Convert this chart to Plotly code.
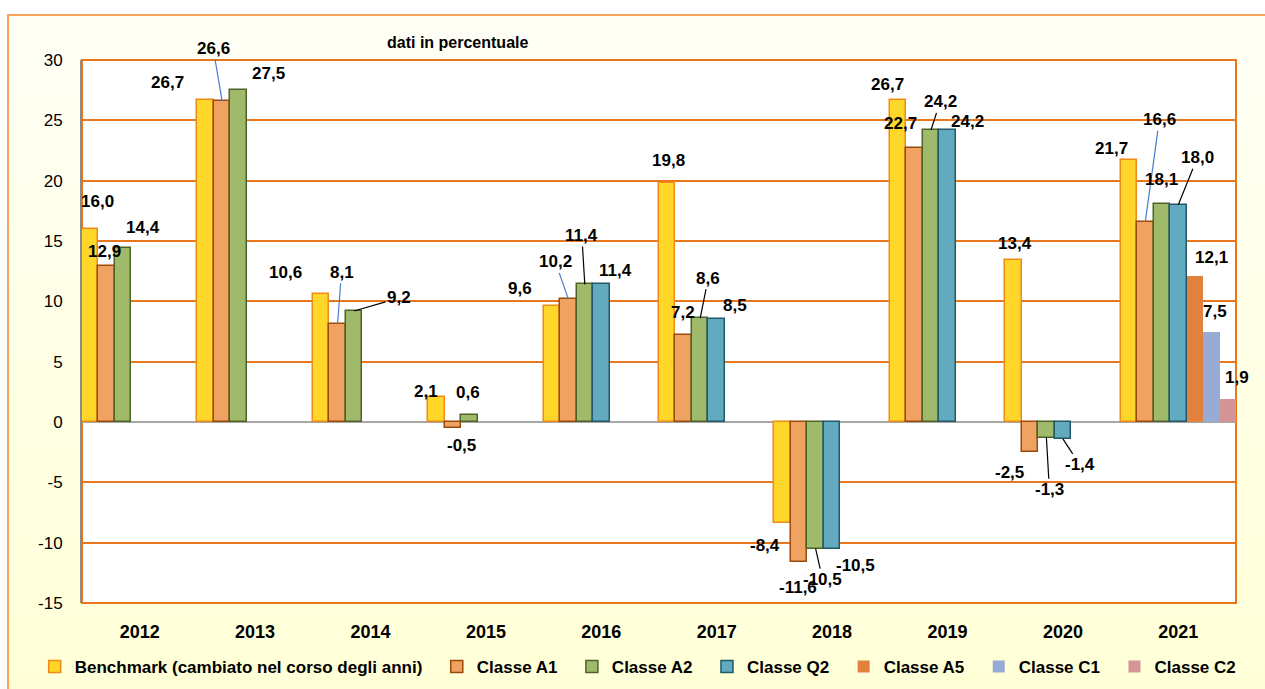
import base64
import plotly.graph_objects as go

# ---------------- data ----------------
years = ["2012", "2013", "2014", "2015", "2016", "2017", "2018", "2019", "2020", "2021"]
series_names = [
    "Benchmark (cambiato nel corso degli anni)",
    "Classe A1",
    "Classe A2",
    "Classe Q2",
    "Classe A5",
    "Classe C1",
    "Classe C2",
]
benchmark = [16.0, 26.7, 10.6, 2.1, 9.6, 19.8, -8.4, 26.7, 13.4, 21.7]
classe_a1 = [12.9, 26.6, 8.1, -0.5, 10.2, 7.2, -11.6, 22.7, -2.5, 16.6]
classe_a2 = [14.4, 27.5, 9.2, 0.6, 11.4, 8.6, -10.5, 24.2, -1.3, 18.1]
classe_q2 = [None, None, None, None, 11.4, 8.5, -10.5, 24.2, -1.4, 18.0]
classe_a5 = [None, None, None, None, None, None, None, None, None, 12.1]
classe_c1 = [None, None, None, None, None, None, None, None, None, 7.5]
classe_c2 = [None, None, None, None, None, None, None, None, None, 1.9]
all_series = [benchmark, classe_a1, classe_a2, classe_q2, classe_a5, classe_c1, classe_c2]

y_tick_values = [-15, -10, -5, 0, 5, 10, 15, 20, 25, 30]
y_tick_labels = ["-15", "-10", "-5", "0", "5", "10", "15", "20", "25", "30"]

# ---------------- styles ----------------
fill_colors = ["#ffd62a", "#f0a262", "#a0ba6c", "#62aabf", "#e0823e", "#97abd5", "#d59495"]
edge_colors = ["#f08a16", "#9a4a0a", "#4f6228", "#215968", None, None, None]

FONT = "Liberation Sans, Arial, sans-serif"
GRID = "#e8761c"
BLUE_LINE = "#4a7cc8"
BLACK_LINE = "#000000"

# label placement (pixel offset of label centre from bar end) and leader line colour
label_pos = {
    (0, 0): (7, -27, None), (1, 0): (-2, -15, None), (2, 0): (20, -21, None),
    (0, 1): (-38, -17, None), (1, 1): (-9, -53, BLUE_LINE), (2, 1): (30, -17, None),
    (0, 2): (-36, -22, None), (1, 2): (4, -52, BLUE_LINE), (2, 2): (45, -13, BLACK_LINE),
    (0, 3): (-10, -5, None), (1, 3): (9, 17, None), (2, 3): (-1, -22, None),
    (0, 4): (-32, -18, None), (1, 4): (-13, -37, BLUE_LINE), (2, 4): (-3, -49, BLACK_LINE), (3, 4): (14, -14, None),
    (0, 5): (1, -23, None), (1, 5): (-1, -23, None), (2, 5): (8, -40, BLACK_LINE), (3, 5): (18, -14, None),
    (0, 6): (-18, 22, None), (1, 6): (-1, 26, None), (2, 6): (7, 31, BLACK_LINE), (3, 6): (23, 17, None),
    (0, 7): (-11, -15, None), (1, 7): (-14, -25, None), (2, 7): (9, -28, BLACK_LINE), (3, 7): (20, -8, None),
    (0, 8): (2, -17, None), (1, 8): (-20, 20, None), (2, 8): (3, 52, BLACK_LINE), (3, 8): (17, 26, BLACK_LINE),
    (0, 9): (-17, -12, None), (1, 9): (14, -102, BLUE_LINE), (2, 9): (0, -24, None), (3, 9): (19, -47, BLACK_LINE),
    (4, 9): (17, -18, None), (5, 9): (4, -20, None), (6, 9): (9, -22, None),
}

n_series = len(all_series)
x_idx = list(range(len(years)))
PAD = "\u00a0\u00a0"  # extra spacing between legend entries

fig = go.Figure()
for s, (name, vals) in enumerate(zip(series_names, all_series)):
    line = dict(color=edge_colors[s], width=1.5) if edge_colors[s] else dict(width=0)
    fig.add_trace(go.Bar(
        x=x_idx, y=vals, name=name + (PAD if s < n_series - 1 else ""),
        marker=dict(color=fill_colors[s], line=line),
    ))

annotations = []
for s, vals in enumerate(all_series):
    for j, v in enumerate(vals):
        if v is None:
            continue
        ax, ay, lc = label_pos.get((s, j), (0, -18, None))
        annotations.append(dict(
            x=j + (s - (n_series - 1) / 2) / n_series, y=v, xref="x", yref="y",
            text=f"{v:.1f}".replace(".", ","),
            showarrow=True, ax=ax, ay=ay, arrowhead=0, arrowwidth=1.2,
            arrowcolor=lc if lc else "rgba(0,0,0,0)", standoff=0, startstandoff=0,
            font=dict(family=FONT, size=17, color="black", weight="bold"),
        ))

annotations.append(dict(
    x=0.3258, y=1.033, xref="paper", yref="paper", showarrow=False,
    text="<b>dati in percentuale</b>", xanchor="center", yanchor="middle",
    font=dict(family=FONT, size=16, color="black"),
))

# cream gradient for the chart frame
svg = ('<svg xmlns="http://www.w3.org/2000/svg" viewBox="0 0 100 100" preserveAspectRatio="none" '
       'width="100" height="100"><defs><linearGradient id="g" x1="0" y1="0" x2="0" y2="1">'
       '<stop offset="0" stop-color="#fffff6"/><stop offset="1" stop-color="#ffffd3"/>'
       '</linearGradient></defs><rect width="100" height="100" fill="url(#g)"/></svg>')
src = "data:image/svg+xml;base64," + base64.b64encode(svg.encode()).decode()

fig.update_layout(
    width=1265, height=689,
    margin=dict(l=82, r=29, t=60, b=86, autoexpand=False),
    paper_bgcolor="white", plot_bgcolor="rgba(0,0,0,0)",
    barmode="group", bargap=0, bargroupgap=0,
    showlegend=True,
    legend=dict(orientation="h", x=-0.041, y=-0.118, xanchor="left", yanchor="middle",
                font=dict(family=FONT, size=17, color="black", weight="bold"),
                bgcolor="rgba(0,0,0,0)", itemwidth=30, traceorder="normal"),
    xaxis=dict(range=[-0.5, 9.5], tickmode="array", tickvals=x_idx, ticktext=years,
               showgrid=False, zeroline=False, showline=False, ticks="",
               ticklabelstandoff=16,
               tickfont=dict(family=FONT, size=18, color="black", weight="bold")),
    yaxis=dict(range=[-15, 30], tickmode="array", tickvals=y_tick_values, ticktext=y_tick_labels,
               showgrid=True, gridcolor=GRID, gridwidth=2,
               zeroline=True, zerolinecolor="#a6a6a6", zerolinewidth=2,
               showline=True, linecolor="#8c8c8c", linewidth=2, ticks="",
               ticklabelstandoff=14,
               tickfont=dict(family=FONT, size=17, color="black")),
    annotations=annotations,
    images=[dict(source=src, xref="paper", yref="paper", x=-0.0641, y=1.0829,
                 sizex=1.2, sizey=1.4, xanchor="left", yanchor="top",
                 sizing="stretch", layer="below")],
    shapes=[
        dict(type="rect", xref="paper", yref="paper", x0=-0.0641, x1=1.3, y0=-0.5, y1=1.0829,
             line=dict(color="#f7a35c", width=2), fillcolor="rgba(0,0,0,0)", layer="below"),
        dict(type="rect", xref="paper", yref="paper", x0=0, x1=1, y0=0, y1=1,
             line=dict(color=GRID, width=2), fillcolor="white", layer="below"),
    ],
)

fig.write_html("out.html", config={"displayModeBar": False},
               post_script="document.body.style.margin='0';document.body.style.overflow='hidden';")
